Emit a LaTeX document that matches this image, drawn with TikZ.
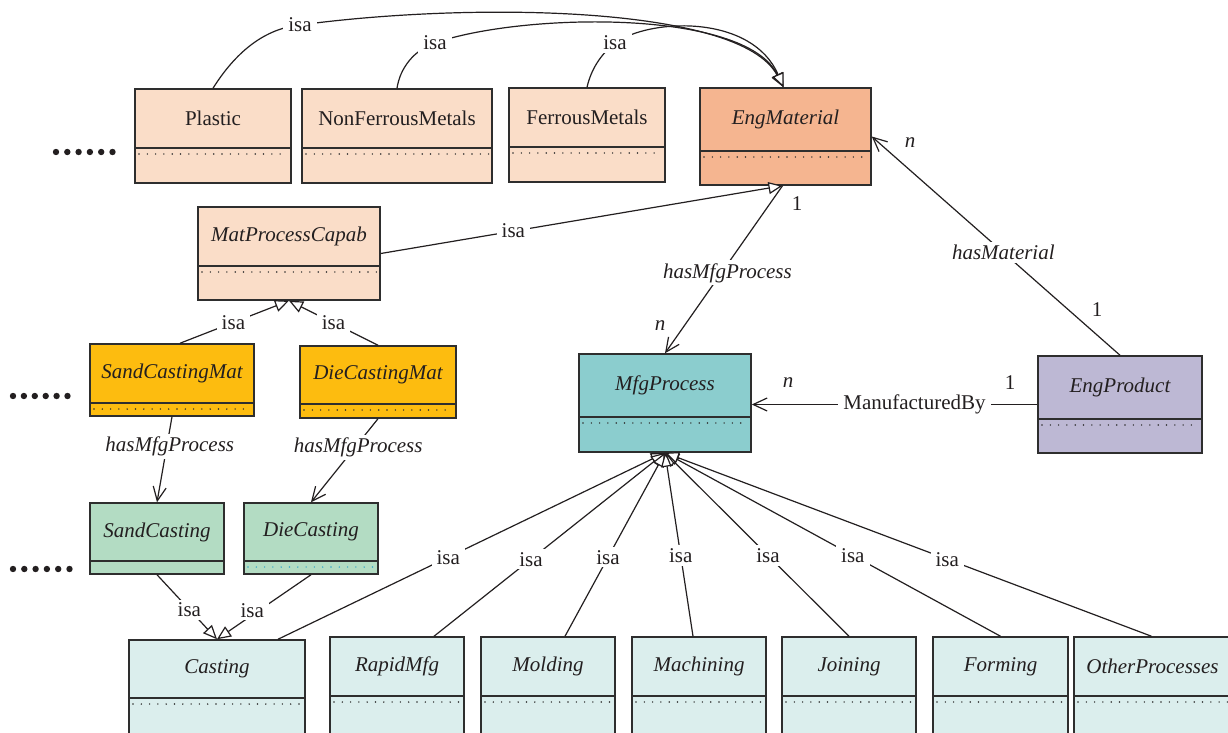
\documentclass[tikz,border=0pt]{standalone}
\usepackage{fontspec}
\setmainfont{Liberation Serif}
\usetikzlibrary{arrows.meta,calc}

\definecolor{ink}{HTML}{231F20}
\definecolor{boxline}{HTML}{2E2E2E}
\definecolor{peach}{HTML}{FADDC8}
\definecolor{salmon}{HTML}{F5B590}
\definecolor{gold}{HTML}{FDBC0F}
\definecolor{mint}{HTML}{B3DCC3}
\definecolor{teal}{HTML}{8BCDCE}
\definecolor{lavender}{HTML}{BDB8D4}
\definecolor{ice}{HTML}{DBEEED}
\definecolor{dotcyan}{HTML}{3AA9C9}

\newcommand\fs{\fontsize{21}{24}\selectfont}

\tikzset{
  classframe/.style={draw=boxline, line width=1.5pt, inner sep=0pt},
  divider/.style={draw=boxline, line width=1.5pt},
  slots/.style={line width=1.6pt, line cap=round, dash pattern=on 0pt off 8.3pt},
  conn/.style={draw=ink, line width=1.2pt},
  isaarrow/.style={conn, -{Triangle[length=14pt,width=12pt,fill=white]}},
  assoc/.style={conn, -{Straight Barb[length=14pt,width=13pt]}},
  lbl/.style={fill=white, inner xsep=5pt, inner ysep=3pt, text=ink},
  mult/.style={text=ink, inner sep=1pt},
}

% #1 name, #2 x1, #3 y1, #4 x2, #5 y2, #6 divider y, #7 fill, #8 slot dot colour, #9 class name
\newcommand\classbox[9]{%
  \node[classframe, fill=#7, minimum width={(#4-#2)*1pt}, minimum height={(#5-#3)*1pt}]
    (#1) at ({(#2+#4)/2},{(#3+#5)/2}) {};
  \draw[divider] (#2,#6) -- (#4,#6);
  \draw[slots, draw=#8] ({#2+4},{#6+6}) -- ({#4-3},{#6+6});
  \node[text=ink] (#1-name) at ({(#2+#4)/2},{(#3+#6)/2}) {#9};
}

\begin{document}
\begin{tikzpicture}[x=1pt,y=-1pt,font=\fs]
\useasboundingbox (0,0) rectangle (1228,733);
\clip (0,0) rectangle (1228,733);
\fill[white] (0,0) rectangle (1228,733);

% ---- classes ----
\classbox{plastic}{135}{89}{291}{183}{148}{peach}{boxline}{Plastic}
\classbox{nonferrous}{302}{89}{492}{183}{148}{peach}{boxline}{NonFerrousMetals}
\classbox{ferrous}{509}{88}{665}{182}{147}{peach}{boxline}{FerrousMetals}
\classbox{eng}{700}{88}{871}{185}{151}{salmon}{boxline}{\itshape EngMaterial}
\classbox{mpc}{198}{207}{380}{300}{266}{peach}{boxline}{\itshape MatProcessCapab}
\classbox{sandmat}{90}{344}{254}{416}{403}{gold}{boxline}{\itshape SandCastingMat}
\classbox{diemat}{300}{346}{456}{418}{404}{gold}{boxline}{\itshape DieCastingMat}
\classbox{sand}{90}{503}{224}{574}{561}{mint}{none}{\itshape SandCasting}
\classbox{die}{244}{503}{378}{574}{561}{mint}{dotcyan}{\itshape DieCasting}
\classbox{mfg}{579}{354}{751}{452}{417}{teal}{boxline}{\itshape MfgProcess}
\classbox{prod}{1038}{356}{1202}{453}{419}{lavender}{boxline}{\itshape EngProduct}
\classbox{casting}{129}{640}{305}{760}{698}{ice}{boxline}{\itshape Casting}
\classbox{rapid}{330}{637}{464}{760}{696}{ice}{boxline}{\itshape RapidMfg}
\classbox{molding}{481}{637}{615}{760}{696}{ice}{boxline}{\itshape Molding}
\classbox{machining}{632}{637}{766}{760}{696}{ice}{boxline}{\itshape Machining}
\classbox{joining}{782}{637}{916}{760}{696}{ice}{boxline}{\itshape Joining}
\classbox{forming}{933}{637}{1068}{760}{696}{ice}{boxline}{\itshape Forming}
\classbox{other}{1074}{637}{1231}{760}{696}{ice}{boxline}{\itshape OtherProcesses}

% ---- ellipsis marks ----
\foreach \i in {0,...,5} {
  \fill[ink] ({56+\i*11.3},152) circle (3.2);
  \fill[ink] ({13+\i*10.9},396) circle (3.2);
  \fill[ink] ({13+\i*11.3},569) circle (3.2);
}

% ---- material generalisations (curved) ----
\coordinate (isaA) at (300,25);
\coordinate (isaB) at (435,43);
\coordinate (isaC) at (615,43);
\draw[isaarrow] (plastic.north) .. controls (232,58) and (260,29) .. (isaA)
  .. controls (470,2) and (740,5) .. ([xshift=-2pt]eng.north);
\draw[isaarrow] (nonferrous.north) .. controls (400,68) and (414,50) .. (isaB)
  .. controls (520,13) and (745,8) .. ([xshift=-2pt]eng.north);
\draw[isaarrow] (ferrous.north) .. controls (591,70) and (600,55) .. (isaC)
  .. controls (650,18) and (752,14) .. ([xshift=-2pt]eng.north);
\node[lbl] (isaAl) at (isaA) {isa};
\node[lbl] (isaBl) at (isaB) {isa};
\node[lbl] (isaCl) at (isaC) {isa};

% ---- upper associations ----
\draw[isaarrow] (mpc.east) -- node[lbl,pos=0.33]{isa} ([xshift=-3pt]eng.south);
\draw[assoc] ([xshift=-3pt]eng.south) -- node[lbl,pos=0.52,xshift=6pt]{\textit{hasMfgProcess}} (mfg.north);
\draw[assoc] (prod.north) -- node[lbl,pos=0.47]{\textit{hasMaterial}} (eng.east);
\draw[assoc] (prod.west) -- node[lbl,pos=0.43]{ManufacturedBy} (prod.west -| mfg.east);

\node[mult] (m1) at (797,204) {1};
\node[mult] (m2) at (660,326) {\textit{n}};
\node[mult] (m3) at (910,143) {\textit{n}};
\node[mult] (m4) at (1097,310) {1};
\node[mult] (m5) at (1010,383) {1};
\node[mult] (m6) at (788,383) {\textit{n}};

% ---- casting materials ----
\draw[isaarrow] ([xshift=8pt]sandmat.north) -- node[lbl,pos=0.49]{isa} (mpc.south);
\draw[isaarrow] (diemat.north) -- node[lbl,pos=0.5]{isa} (mpc.south);
\draw[assoc] (sandmat.south) -- node[lbl,pos=0.35,xshift=3pt]{\textit{hasMfgProcess}} (sand.north);
\draw[assoc] (diemat.south) -- node[lbl,pos=0.34,xshift=3pt]{\textit{hasMfgProcess}} (die.north);
\draw[isaarrow] (sand.south) -- node[lbl,pos=0.54]{isa} (casting.north);
\draw[isaarrow] (die.south) -- node[lbl,pos=0.55,xshift=-7pt]{isa} (casting.north);

% ---- process specialisations ----
\draw[isaarrow] ([xshift=61pt]casting.north) -- node[lbl,pos=0.44]{isa} (mfg.south);
\draw[isaarrow] ([xshift=37pt]rapid.north) -- node[lbl,pos=0.42]{isa} (mfg.south);
\draw[isaarrow] ([xshift=17pt]molding.north) -- node[lbl,pos=0.43]{isa} (mfg.south);
\draw[isaarrow] ([xshift=-6pt]machining.north) -- node[lbl,pos=0.44]{isa} (mfg.south);
\draw[isaarrow] (joining.north) -- node[lbl,pos=0.44]{isa} (mfg.south);
\draw[isaarrow] (forming.north) -- node[lbl,pos=0.44]{isa} (mfg.south);
\draw[isaarrow] ([xshift=-1pt]other.north) -- node[lbl,pos=0.42]{isa} (mfg.south);
\end{tikzpicture}
\end{document}
